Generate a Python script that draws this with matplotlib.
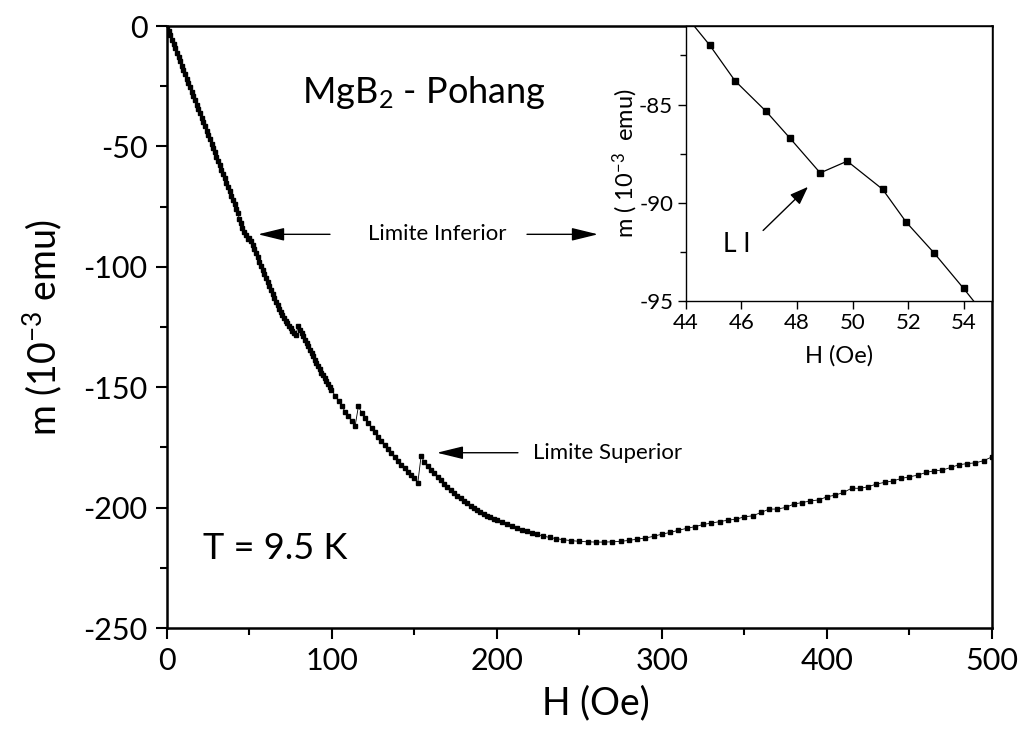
import matplotlib
matplotlib.use("Agg")
import matplotlib.pyplot as plt
from matplotlib.ticker import MultipleLocator

plt.rcParams['font.family'] = ['Lato', 'DejaVu Sans']
plt.rcParams['mathtext.default'] = 'regular'
plt.rcParams['axes.unicode_minus'] = False

# Magnetization curve of MgB2 at T = 9.5 K (m in 10^-3 emu, H in Oe)
H_low = [0.0, 1.0, 2.0, 3.0, 4.0, 5.0, 6.0, 7.0, 8.0, 9.0, 10.0, 11.0, 12.0, 13.0, 14.0,
         15.0, 16.0, 17.0, 18.0, 19.0, 20.0, 21.0, 22.0, 23.0, 24.0, 25.0, 26.0, 27.0, 28.0,
         29.0, 30.0, 31.0, 32.0, 33.0, 34.0, 35.0, 36.0, 37.0, 38.0, 39.0, 40.0, 41.0, 42.0,
         43.0, 43.9]
m_low = [0.0, -1.9, -3.8, -5.6, -7.4, -9.2, -11.0, -12.9, -14.7, -16.5, -18.3, -20.1, -21.9,
         -23.7, -25.5, -27.3, -29.1, -30.9, -32.7, -34.5, -36.3, -38.1, -39.9, -41.7, -43.5,
         -45.3, -47.1, -48.9, -50.7, -52.5, -54.3, -56.1, -57.9, -59.7, -61.5, -63.3, -65.0,
         -66.8, -68.6, -70.4, -72.2, -74.0, -75.8, -77.6, -80.3]

H_mid = [44.87, 45.77, 46.89, 47.75, 48.83, 49.80, 51.07, 51.92, 52.91, 53.98, 54.9,
         56.0, 57.0, 58.0, 59.0, 60.0, 61.0, 62.0, 63.0, 64.0, 65.0, 66.0, 67.0, 68.0,
         69.0, 70.0, 71.0, 72.0, 73.0, 74.0, 75.0, 76.0, 77.0, 78.0, 79.5, 80.6, 81.6,
         82.6, 83.6, 84.6, 85.6, 86.6, 87.6, 88.6, 89.6, 90.6, 91.6, 92.6, 93.6, 94.6,
         95.6, 96.6, 97.6, 98.6, 99.6]
m_mid = [-81.99, -83.79, -85.35, -86.72, -88.48, -87.88, -89.31, -90.99, -92.54, -94.36,
         -96.0, -97.8, -99.5, -101.2, -102.9, -104.6, -106.3, -108.0, -109.6, -111.3,
         -112.9, -114.5, -116.0, -117.4, -118.7, -120.0, -121.2, -122.3, -123.4, -124.4,
         -125.4, -126.5, -127.5, -128.4, -124.7, -126.1, -127.5, -128.8, -130.2, -131.6,
         -133.0, -134.4, -135.8, -137.1, -138.5, -139.8, -141.2, -142.6, -143.9, -145.1,
         -146.3, -147.5, -148.7, -149.9, -151.0]

H_high = [102, 104, 106, 108, 110, 112, 114, 116, 118, 120, 122, 124, 126, 128, 130, 132,
          134, 136, 138, 140, 142, 144, 146, 148, 150, 152, 154, 156, 158, 160, 162, 164,
          166, 168, 170, 172, 174, 176, 178, 180, 182, 184, 186, 188, 190, 192, 194, 196,
          198, 200, 203, 206, 209, 212, 215, 218, 221, 224, 228, 232, 236, 240, 245, 250,
          255, 260, 265, 270, 275, 280, 285, 290, 295, 300, 305, 310, 315, 320, 325, 330,
          335, 340, 345, 350, 355, 360, 365, 370, 375, 380, 385, 390, 395, 400, 405, 410,
          415, 420, 425, 430, 435, 440, 445, 450, 455, 460, 465, 470, 475, 480, 485, 490,
          495, 500]
m_high = [-153.6, -155.8, -158.0, -160.1, -162.1, -164.1, -166.2, -158.0, -160.6, -162.7,
          -164.8, -166.8, -168.7, -170.6, -172.4, -174.1, -175.8, -177.4, -179.0, -180.6,
          -182.1, -183.6, -185.0, -186.4, -187.8, -189.8, -178.6, -181.1, -182.7, -184.3,
          -185.8, -187.2, -188.6, -190.0, -191.3, -192.6, -193.8, -195.0, -196.1, -197.2,
          -198.2, -199.2, -200.1, -201.0, -201.8, -202.6, -203.3, -204.0, -204.7, -205.3,
          -206.1, -206.9, -207.7, -208.5, -209.2, -209.9, -210.5, -211.1, -211.8, -212.4,
          -212.9, -213.3, -213.7, -214.0, -214.2, -214.3, -214.3, -214.2, -214.0, -213.6,
          -213.1, -212.6, -211.9, -211.0, -210.3, -209.4, -208.6, -207.9, -207.0, -206.4,
          -205.8, -205.2, -204.8, -203.8, -203.4, -202.0, -200.6, -200.6, -199.9, -198.5,
          -197.9, -197.2, -196.8, -195.5, -194.8, -193.7, -191.9, -192.0, -191.3, -190.2,
          -189.5, -188.9, -187.9, -187.2, -186.5, -185.4, -184.7, -184.4, -183.3, -182.2,
          -181.7, -181.4, -180.5, -178.9]

H = H_low + H_mid + H_high
m = m_low + m_mid + m_high

fig = plt.figure(figsize=(10.25, 7.33), dpi=100)
ax = fig.add_axes([0.1629, 0.1432, 0.8049, 0.8213])
ax.plot(H, m, color='black', lw=0.6, marker='s', ms=3.3, mec='black', mfc='black')
ax.set_xlim(0, 500)
ax.set_ylim(-250, 0)
ax.xaxis.set_major_locator(MultipleLocator(100))
ax.xaxis.set_minor_locator(MultipleLocator(50))
ax.yaxis.set_major_locator(MultipleLocator(50))
ax.yaxis.set_minor_locator(MultipleLocator(25))
ax.tick_params(which='both', direction='out', top=False, right=False, width=1.5,
               labelsize=22)
ax.tick_params(which='major', length=8, pad=6)
ax.tick_params(which='minor', length=5)
for s in ax.spines.values():
    s.set_linewidth(1.8)
ax.set_xlabel('H (Oe)', fontsize=27)
ax.xaxis.set_label_coords(0.52, -0.095)
ax.set_ylabel('m (10$^{-3}$ emu)', fontsize=27, labelpad=14)

ax.text(82, -27.5, 'MgB$_2$ - Pohang', fontsize=26, ha='left', va='center')
ax.text(22, -217, 'T = 9.5 K', fontsize=26, ha='left', va='center')

arrow = dict(arrowstyle='-|>,head_length=0.9,head_width=0.22', color='black', lw=1.0,
             mutation_scale=18, shrinkA=0, shrinkB=0)
ax.text(164, -86.5, 'Limite Inferior', fontsize=16, ha='center', va='center')
ax.annotate('', xy=(55.2, -86.5), xytext=(98.8, -86.5), arrowprops=arrow)
ax.annotate('', xy=(261.2, -86.5), xytext=(218.2, -86.5), arrowprops=arrow)
ax.text(221.8, -177.2, 'Limite Superior', fontsize=16, ha='left', va='center')
ax.annotate('', xy=(163.6, -177.2), xytext=(212.7, -177.2), arrowprops=arrow)

# Zoom on the lower limit
ins = fig.add_axes([0.669, 0.5894, 0.2988, 0.3751])
ins.plot(H, m, color='black', lw=0.9, marker='s', ms=4.0, mec='black', mfc='black')
ins.set_xlim(44, 55)
ins.set_ylim(-95, -81)
ins.xaxis.set_major_locator(MultipleLocator(2))
ins.yaxis.set_major_locator(MultipleLocator(5))
ins.yaxis.set_minor_locator(MultipleLocator(2.5))
ins.tick_params(which='both', direction='out', top=False, right=False, width=1.0,
                labelsize=16)
ins.tick_params(which='major', length=6, pad=3)
ins.tick_params(which='minor', length=4)
for s in ins.spines.values():
    s.set_linewidth(1.0)
ins.set_xlabel('H (Oe)', fontsize=17, labelpad=8)
ins.set_ylabel('m ( 10$^{-3}$  emu)', fontsize=17, labelpad=-1)
ins.text(45.85, -92.1, 'L I', fontsize=19, ha='center', va='center')
ins.annotate('', xy=(48.39, -89.19), xytext=(46.78, -91.41),
             arrowprops=dict(arrowstyle='-|>,head_length=0.8,head_width=0.3',
                             color='black', lw=1.0, mutation_scale=14,
                             shrinkA=0, shrinkB=0))

fig.savefig('out.png', dpi=100)
